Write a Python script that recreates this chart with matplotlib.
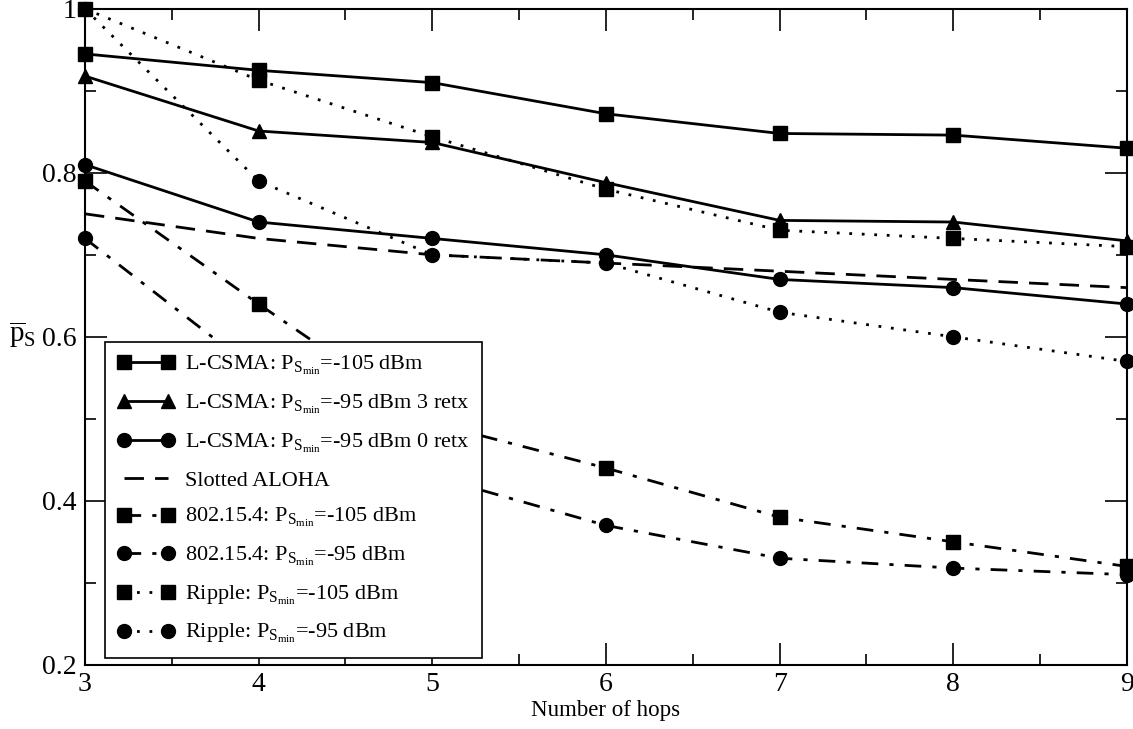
import matplotlib
matplotlib.use("Agg")
import matplotlib.pyplot as plt
from matplotlib.ticker import MultipleLocator

plt.rcParams['font.family'] = ['Liberation Serif', 'DejaVu Serif']
plt.rcParams['mathtext.fontset'] = 'custom'
plt.rcParams['mathtext.rm'] = 'Liberation Serif'
plt.rcParams['mathtext.it'] = 'Liberation Serif:italic'

# data
hops = [3, 4, 5, 6, 7, 8, 9]
lcsma_105 = [0.945, 0.925, 0.910, 0.872, 0.848, 0.846, 0.830]
lcsma_95_3retx = [0.918, 0.851, 0.837, 0.788, 0.742, 0.740, 0.717]
lcsma_95_0retx = [0.810, 0.740, 0.720, 0.700, 0.670, 0.660, 0.640]
aloha = [0.750, 0.720, 0.700, 0.690, 0.680, 0.670, 0.660]
ieee_105 = [0.790, 0.640, 0.495, 0.440, 0.380, 0.350, 0.320]
ieee_95 = [0.720, 0.556, 0.430, 0.370, 0.330, 0.318, 0.310]
ripple_105 = [1.000, 0.913, 0.844, 0.780, 0.730, 0.720, 0.710]
ripple_95 = [1.000, 0.790, 0.700, 0.690, 0.630, 0.600, 0.570]

psmin = r'$\mathrm{P}_{\mathrm{S}_{\mathrm{min}}}$'
labels = [
    'L-CSMA: ' + psmin + '=-105 dBm',
    'L-CSMA: ' + psmin + '=-95 dBm 3 retx',
    'L-CSMA: ' + psmin + '=-95 dBm 0 retx',
    'Slotted ALOHA',
    '802.15.4: ' + psmin + '=-105 dBm',
    '802.15.4: ' + psmin + '=-95 dBm',
    'Ripple: ' + psmin + '=-105 dBm',
    'Ripple: ' + psmin + '=-95 dBm',
]

fig = plt.figure(figsize=(11.33, 7.29), dpi=100)
ax = fig.add_axes([0.075, 0.088, 0.9197, 0.8999])

dashdot = (0, (6, 4, 1.5, 4))
dotted = (0, (1, 3.5))
kw = dict(color='black', lw=2, ms=10, clip_on=False)

ax.plot(hops, lcsma_105, linestyle='-', marker='s', label=labels[0], **kw)
ax.plot(hops, lcsma_95_3retx, linestyle='-', marker='^', label=labels[1], **kw)
ax.plot(hops, lcsma_95_0retx, linestyle='-', marker='o', label=labels[2], **kw)
ax.plot(hops, aloha, linestyle=(0, (7, 4)), label=labels[3], **kw)
ax.plot(hops, ieee_105, linestyle=dashdot, marker='s', label=labels[4], **kw)
ax.plot(hops, ieee_95, linestyle=dashdot, marker='o', label=labels[5], **kw)
ax.plot(hops, ripple_105, linestyle=dotted, marker='s', label=labels[6], **kw)
ax.plot(hops, ripple_95, linestyle=dotted, marker='o', label=labels[7], **kw)

ax.set_xlim(3, 9)
ax.set_ylim(0.2, 1.0)
ax.xaxis.set_major_locator(MultipleLocator(1))
ax.xaxis.set_minor_locator(MultipleLocator(0.5))
ax.yaxis.set_major_locator(MultipleLocator(0.2))
ax.yaxis.set_minor_locator(MultipleLocator(0.1))
ax.yaxis.set_major_formatter(plt.FuncFormatter(lambda v, p: ('%g' % round(v, 2))))
ax.tick_params(which='both', direction='in', top=True, right=True, width=1.2,
               labelsize=20)
ax.tick_params(axis='y', pad=6)
ax.tick_params(axis='x', pad=5)
ax.tick_params(which='major', length=16)
ax.tick_params(which='minor', length=8)
for s in ax.spines.values():
    s.set_linewidth(1.5)

ax.set_xlabel('Number of hops', fontsize=16.5, labelpad=2)
ax.set_ylabel(r'$\overline{\mathrm{p}}_\mathrm{S}$', fontsize=21, rotation=0, labelpad=2)
ax.yaxis.set_label_coords(-0.06, 0.48)

leg = ax.legend(loc='lower left', bbox_to_anchor=(0.019, 0.011), fontsize=16,
                frameon=True, fancybox=False, framealpha=1, edgecolor='black',
                handlelength=2.6, handletextpad=0.45, labelspacing=0.7,
                borderpad=0.55, borderaxespad=0, numpoints=2)
leg.get_frame().set_linewidth(1.2)

fig.savefig('out.png', dpi=100)
